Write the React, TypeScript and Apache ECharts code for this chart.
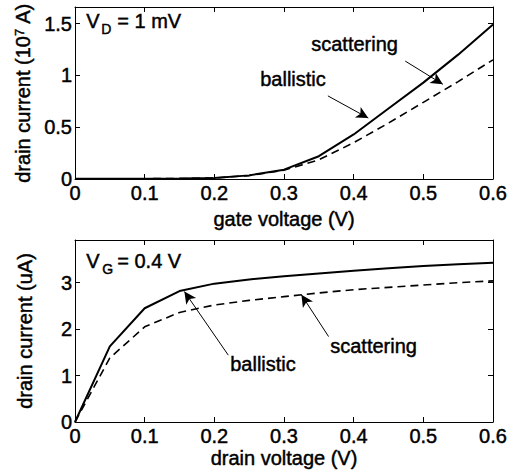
import React, { useEffect, useRef } from "react";
import * as echarts from "echarts";

const gateVoltage = [0, 0.05, 0.1, 0.15, 0.2, 0.25, 0.3, 0.35, 0.4, 0.45, 0.5, 0.55, 0.6];
const gateBallistic = [0.002, 0.002, 0.003, 0.004, 0.01, 0.035, 0.09, 0.22, 0.43, 0.68, 0.93, 1.2, 1.49];
const gateScattering = [0.002, 0.002, 0.003, 0.004, 0.01, 0.033, 0.085, 0.185, 0.35, 0.54, 0.74, 0.94, 1.15];

const drainVoltage = [0, 0.05, 0.1, 0.15, 0.2, 0.25, 0.3, 0.35, 0.4, 0.45, 0.5, 0.55, 0.6];
const drainBallistic = [0, 1.63, 2.45, 2.82, 2.98, 3.07, 3.14, 3.2, 3.26, 3.31, 3.36, 3.4, 3.43];
const drainScattering = [0, 1.38, 2.05, 2.36, 2.52, 2.62, 2.7, 2.78, 2.85, 2.9, 2.95, 3.0, 3.04];

// annotation arrows in data coordinates: [x1, y1, x2, y2]
const topScatterArrow = [0.474, 1.138, 0.528, 0.914];
const topBallisticArrow = [0.363, 0.802, 0.421, 0.588];
const botBallisticArrow = [0.22, 1.44, 0.157, 2.81];
const botScatterArrow = [0.364, 1.84, 0.325, 2.74];

const FONT = "Liberation Sans, Arial, Helvetica, sans-serif";
const FS = 20;
const BW = 0.45;

function pairs(xs: number[], ys: number[]) {
  return xs.map((x, i) => [x, ys[i]]);
}

function arrow(a: number[]) {
  return {
    silent: true,
    animation: false,
    symbol: ["none", "arrow"],
    symbolSize: [9, 12],
    label: { show: false },
    lineStyle: { color: "#000", width: 1, type: "solid" },
    emphasis: { disabled: true },
    data: [[{ coord: [a[0], a[1]] }, { coord: [a[2], a[3]] }]],
  };
}

export default function App() {
  const ref = useRef<HTMLDivElement>(null);
  useEffect(() => {
    if (!ref.current) return;
    const chart = echarts.init(ref.current, null, { renderer: "svg" });
    const txt = {
      color: "#000",
      fontFamily: FONT,
      fontSize: FS,
      textBorderColor: "#000",
      textBorderWidth: BW,
    };
    const gtxt = (text: string, left: number, top: number, size: number = FS) => ({
      type: "text",
      left,
      top,
      style: {
        text,
        font: `${size}px ${FONT}`,
        fill: "#000",
        stroke: "#000",
        lineWidth: BW,
      },
    });
    const baseX = (gridIndex: number, name: string) => ({
      type: "value",
      gridIndex,
      min: 0,
      max: 0.6,
      interval: 0.1,
      position: "bottom",
      name,
      nameLocation: "middle",
      nameGap: 30,
      nameTextStyle: { ...txt },
      axisLine: { onZero: false, lineStyle: { color: "#000", width: 1 } },
      axisTick: { inside: true, length: 5, lineStyle: { color: "#000" } },
      axisLabel: { ...txt, margin: 4 },
      splitLine: { show: false },
    });
    const topX = (gridIndex: number) => ({
      type: "value",
      gridIndex,
      min: 0,
      max: 0.6,
      interval: 0.1,
      position: "top",
      axisLine: { onZero: false, lineStyle: { color: "#000", width: 1 } },
      axisTick: { inside: true, length: 5, lineStyle: { color: "#000" } },
      axisLabel: { show: false },
      splitLine: { show: false },
    });
    const leftY = (gridIndex: number, max: number, interval: number, name: string, rich: any) => ({
      type: "value",
      gridIndex,
      min: 0,
      max,
      interval,
      position: "left",
      name,
      nameLocation: "middle",
      nameGap: 40,
      nameTextStyle: { ...txt, rich },
      axisLine: { onZero: false, lineStyle: { color: "#000", width: 1 } },
      axisTick: { inside: true, length: 5, lineStyle: { color: "#000" } },
      axisLabel: {
        ...txt,
        margin: 3,
        formatter: (v: number) => {
          const k = v / interval;
          return Math.abs(k - Math.round(k)) < 1e-6 ? String(v) : "";
        },
      },
      splitLine: { show: false },
    });
    const rightY = (gridIndex: number, max: number, interval: number) => ({
      type: "value",
      gridIndex,
      min: 0,
      max,
      interval,
      position: "right",
      axisLine: { onZero: false, lineStyle: { color: "#000", width: 1 } },
      axisTick: { inside: true, length: 5, lineStyle: { color: "#000" } },
      axisLabel: { show: false },
      splitLine: { show: false },
    });

    const solid = { color: "#000", width: 2, type: "solid" };
    const dashed = { color: "#000", width: 1.6, type: [8, 5] };

    chart.setOption({
      animation: false,
      backgroundColor: "#fff",
      grid: [
        { left: 75, top: 1, width: 418, height: 178 },
        { left: 75, top: 240, width: 418, height: 182 },
      ],
      xAxis: [
        baseX(0, "gate voltage (V)"),
        topX(0),
        { ...baseX(1, "drain voltage (V)"), nameGap: 26 },
        topX(1),
      ],
      yAxis: [
        leftY(0, 1.66, 0.5, "drain current (10{sup|7} A)", {
          sup: {
            fontSize: 13,
            fontFamily: FONT,
            color: "#000",
            textBorderColor: "#000",
            textBorderWidth: BW,
            verticalAlign: "top",
          },
        }),
        rightY(0, 1.66, 0.5),
        leftY(1, 3.92, 1, "drain current (uA)", {}),
        rightY(1, 3.92, 1),
      ],
      series: [
        {
          type: "line",
          name: "ballistic",
          xAxisIndex: 0,
          yAxisIndex: 0,
          data: pairs(gateVoltage, gateBallistic),
          showSymbol: false,
          symbol: "none",
          lineStyle: solid,
          markLine: arrow(topBallisticArrow),
        },
        {
          type: "line",
          name: "scattering",
          xAxisIndex: 0,
          yAxisIndex: 0,
          data: pairs(gateVoltage, gateScattering),
          showSymbol: false,
          symbol: "none",
          lineStyle: dashed,
          markLine: arrow(topScatterArrow),
        },
        {
          type: "line",
          name: "ballistic",
          xAxisIndex: 2,
          yAxisIndex: 2,
          data: pairs(drainVoltage, drainBallistic),
          showSymbol: false,
          symbol: "none",
          lineStyle: solid,
          markLine: arrow(botBallisticArrow),
        },
        {
          type: "line",
          name: "scattering",
          xAxisIndex: 2,
          yAxisIndex: 2,
          data: pairs(drainVoltage, drainScattering),
          showSymbol: false,
          symbol: "none",
          lineStyle: dashed,
          markLine: arrow(botScatterArrow),
        },
      ],
      graphic: [
        gtxt("V", 86, 11),
        gtxt("D", 101, 22, 14),
        gtxt("= 1 mV", 117, 11),
        gtxt("V", 86, 251),
        gtxt("G", 102, 262, 14),
        gtxt("= 0.4 V", 117, 251),
        gtxt("scattering", 311, 34),
        gtxt("ballistic", 260, 69),
        gtxt("scattering", 330, 336),
        gtxt("ballistic", 230, 354),
      ],
    });
    return () => chart.dispose();
  }, []);
  return (
    <div
      ref={ref}
      style={{ position: "absolute", left: 0, top: 0, width: 523, height: 473 }}
    />
  );
}
